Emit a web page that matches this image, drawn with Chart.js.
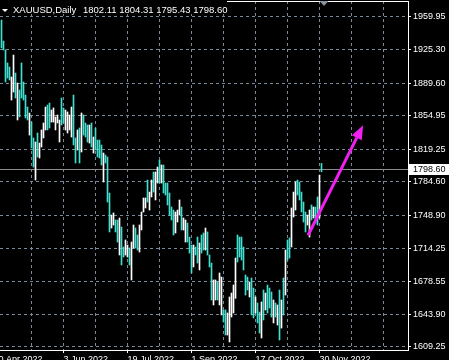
<!DOCTYPE html>
<html>
<head>
<meta charset="utf-8">
<title>XAUUSD Daily</title>
<script src="https://cdn.jsdelivr.net/npm/chart.js"></script>
<style>
    html, body { margin: 0; padding: 0; background: #000; }
    canvas { display: block; background: #000; }
</style>
</head>
<body>
<canvas id="myChart" width="449" height="360"></canvas>

<script>
// daily bars, index 0 = 21 Apr 2022 ... index 160 = 1 Dec 2022
var highs = [
    1956.7, 1934.4, 1924.9, 1911.1, 1906.8, 1896.2, 1919.5, 1900.4, 1889.8, 1882.4,
    1911.1, 1890.9, 1877.0, 1864.3, 1857.9, 1848.3, 1831.4, 1827.1, 1836.7, 1826.0,
    1839.9, 1847.3, 1864.3, 1866.4, 1868.5, 1861.1, 1863.3, 1853.7, 1855.8, 1850.5,
    1873.9, 1863.3, 1861.1, 1859.0, 1855.8, 1864.3, 1877.0, 1831.4, 1839.9, 1842.0,
    1857.9, 1855.8, 1847.3, 1845.2, 1845.2, 1847.3, 1832.4, 1842.0, 1829.2, 1829.2,
    1823.9, 1815.4, 1813.3, 1811.2, 1772.9, 1749.5, 1751.7, 1744.2, 1744.2, 1746.3,
    1736.8, 1715.5, 1723.0, 1717.6, 1714.5, 1720.8, 1738.9, 1735.7, 1728.3, 1738.9,
    1752.7, 1767.6, 1767.6, 1786.7, 1773.9, 1786.7, 1795.2, 1795.2, 1800.5, 1808.0,
    1802.7, 1802.7, 1783.5, 1783.5, 1772.9, 1758.0, 1754.8, 1752.7, 1754.8, 1765.5,
    1758.0, 1746.3, 1744.2, 1741.0, 1726.1, 1717.6, 1717.6, 1715.5, 1726.1, 1719.8,
    1728.3, 1730.4, 1735.7, 1731.5, 1707.0, 1698.5, 1680.5, 1680.5, 1678.3, 1687.9,
    1683.6, 1648.6, 1648.6, 1645.4, 1662.4, 1666.6, 1675.1, 1703.8, 1728.3, 1726.1,
    1726.1, 1715.5, 1685.8, 1683.6, 1678.3, 1682.6, 1671.9, 1662.4, 1656.0, 1646.4,
    1657.1, 1669.8, 1666.6, 1675.1, 1671.9, 1667.7, 1659.2, 1656.0, 1653.9, 1669.8,
    1659.2, 1682.6, 1712.3, 1723.0, 1725.1, 1757.0, 1773.9, 1784.6, 1786.7, 1784.6,
    1773.9, 1763.3, 1752.7, 1749.5, 1754.8, 1760.2, 1758.0, 1758.0, 1768.7, 1792.0,
    1804.31
];
var lows = [
    1927.0, 1924.9, 1890.9, 1895.1, 1893.0, 1871.7, 1880.2, 1873.9, 1850.5, 1853.7,
    1873.9, 1871.7, 1852.6, 1850.5, 1834.5, 1820.7, 1800.5, 1786.7, 1811.2, 1810.1,
    1821.8, 1831.4, 1839.9, 1839.9, 1842.0, 1848.3, 1848.3, 1839.9, 1847.3, 1827.1,
    1845.2, 1847.3, 1839.9, 1836.7, 1839.9, 1832.4, 1823.9, 1804.8, 1818.6, 1804.8,
    1816.5, 1834.5, 1832.4, 1827.1, 1826.0, 1821.8, 1815.4, 1818.6, 1811.2, 1810.1,
    1802.7, 1784.6, 1804.8, 1763.3, 1731.5, 1735.7, 1738.9, 1731.5, 1720.8, 1707.0,
    1696.4, 1704.9, 1707.0, 1704.9, 1696.4, 1680.5, 1714.5, 1714.5, 1712.3, 1710.2,
    1733.6, 1752.7, 1757.0, 1763.3, 1754.8, 1768.7, 1773.9, 1765.5, 1783.5, 1783.5,
    1783.5, 1772.9, 1770.8, 1760.2, 1749.5, 1744.2, 1728.3, 1730.4, 1742.1, 1749.5,
    1733.6, 1733.6, 1720.8, 1720.8, 1709.1, 1687.9, 1694.3, 1707.0, 1698.5, 1691.1,
    1709.1, 1712.3, 1712.3, 1707.0, 1694.3, 1659.2, 1653.9, 1659.2, 1659.2, 1653.9,
    1643.3, 1635.8, 1622.0, 1622.0, 1614.6, 1641.1, 1645.4, 1661.0, 1699.6, 1704.9,
    1701.7, 1691.1, 1664.5, 1669.8, 1662.4, 1643.3, 1640.1, 1645.4, 1634.8, 1624.1,
    1618.8, 1638.0, 1648.6, 1645.4, 1650.7, 1641.1, 1634.8, 1641.1, 1632.6, 1616.7,
    1629.4, 1643.3, 1664.5, 1701.7, 1703.8, 1715.5, 1747.4, 1754.8, 1770.8, 1765.5,
    1752.7, 1742.1, 1731.5, 1738.9, 1726.1, 1744.2, 1746.3, 1741.0, 1738.9, 1746.3,
    1795.43
];
// 1 = bull bar (white), 0 = bear bar (aqua)
var upBar = [
    0,0,0,0,0,1,1,0,1,0,  0,0,0,0,1,0,0,1,0,1,  1,1,1,0,0,1,1,1,1,1,  0,0,1,1,1,1,0,0,1,0,
    1,0,0,0,1,0,1,0,0,0,  0,1,0,0,0,1,1,0,0,1,  0,0,1,1,0,1,1,0,0,1,  1,1,1,0,1,1,0,1,1,0,
    1,0,0,0,0,0,0,1,1,1,  0,1,1,0,0,0,1,0,0,1,  0,0,1,0,0,0,1,1,0,1,  1,0,0,1,1,1,1,1,0,0,
    0,0,0,0,1,0,0,1,0,0,  1,0,1,0,0,0,1,0,1,0,  1,0,1,0,0,1,1,1,0,0,  0,0,0,1,1,0,1,0,0,1,
    0
];

var symbolName = 'XAUUSD,Daily';
var lastOHLC = [1802.11, 1804.31, 1795.43, 1798.60];

var priceTicks = [1609.25, 1643.90, 1678.55, 1714.25, 1748.90, 1784.60, 1819.25, 1854.95, 1889.60, 1925.30, 1959.95];
var gridBars = [15, 31, 47, 63, 79, 95, 111, 127, 143, 159, 175, 191];
var labelBars = [-4, 31, 63, 95, 127, 159];
var labelTexts = ['20 Apr 2022', '3 Jun 2022', '19 Jul 2022', '1 Sep 2022', '17 Oct 2022', '30 Nov 2022'];

// arrow drawn on the chart: [bar, price]
var arrowFrom = [153.3, 1728.0];
var arrowTo = [180.8, 1845.0];

var FONT = "'Liberation Sans', Arial, sans-serif";
var gridColor = '#778899';
var aqua = '#40e0d0';
var magenta = '#f020f0';

var decor = {
    id: 'decor',
    beforeDatasetsDraw: function (chart) {
        var c = chart.ctx, a = chart.chartArea;
        var y = Math.round(chart.scales.y.getPixelForValue(lastOHLC[3])) + 0.5;
        c.save();
        c.strokeStyle = '#8c8c8c';
        c.lineWidth = 1;
        c.beginPath();
        c.moveTo(a.left, y);
        c.lineTo(a.right, y);
        c.stroke();
        c.restore();
    },
    afterDatasetsDraw: function (chart) {
        var c = chart.ctx, xs = chart.scales.x, ys = chart.scales.y;
        var x0 = xs.getPixelForValue(arrowFrom[0]), y0 = ys.getPixelForValue(arrowFrom[1]);
        var x1 = xs.getPixelForValue(arrowTo[0]), y1 = ys.getPixelForValue(arrowTo[1]);
        var ang = Math.atan2(y1 - y0, x1 - x0);
        var len = 14, half = 5.5;
        var bx = x1 - len * Math.cos(ang), by = y1 - len * Math.sin(ang);
        c.save();
        c.strokeStyle = magenta;
        c.fillStyle = magenta;
        c.lineWidth = 3;
        c.beginPath();
        c.moveTo(x0, y0);
        c.lineTo(bx, by);
        c.stroke();
        c.beginPath();
        c.moveTo(x1, y1);
        c.lineTo(bx + half * Math.sin(ang), by - half * Math.cos(ang));
        c.lineTo(bx - half * Math.sin(ang), by + half * Math.cos(ang));
        c.closePath();
        c.fill();
        c.restore();
    },
    afterDraw: function (chart) {
        var c = chart.ctx, a = chart.chartArea, xs = chart.scales.x, ys = chart.scales.y;
        c.save();
        // top frame line
        c.strokeStyle = '#ffffff';
        c.lineWidth = 1;
        c.beginPath();
        c.moveTo(a.left, a.top + 0.5);
        c.lineTo(a.right + 1, a.top + 0.5);
        c.stroke();

        // chart shift marker
        var sx = xs.getPixelForValue(161.25);
        c.fillStyle = '#8391a0';
        c.beginPath();
        c.moveTo(sx - 4.5, 1);
        c.lineTo(sx + 4.5, 1);
        c.lineTo(sx, 6);
        c.closePath();
        c.fill();

        // title
        c.fillStyle = '#000';
        c.fillRect(0, 0, 227, 14);
        c.fillStyle = '#ffffff';
        c.beginPath();
        c.moveTo(2, 9);
        c.lineTo(8, 9);
        c.lineTo(5, 12);
        c.closePath();
        c.fill();
        c.font = '9.5px ' + FONT;
        c.textBaseline = 'alphabetic';
        c.textAlign = 'left';
        c.fillText(symbolName, 13, 13);
        c.fillText(lastOHLC.map(function (v) { return v.toFixed(2); }).join(' '), 83, 13);

        // current price box
        var py = Math.round(ys.getPixelForValue(lastOHLC[3]));
        c.fillStyle = '#ffffff';
        c.fillRect(a.right + 1, py - 5, 41, 11);
        c.fillStyle = '#000';
        c.font = '9px ' + FONT;
        c.textBaseline = 'middle';
        c.fillText(lastOHLC[3].toFixed(2), a.right + 5, py + 0.5);
        c.restore();
    }
};

var ctx = document.getElementById('myChart').getContext('2d');
var myChart = new Chart(ctx, {
    type: 'bar',
    data: {
        datasets: [{
            data: highs.map(function (h, i) { return { x: i, y: [lows[i], h] }; }),
            backgroundColor: upBar.map(function (u) { return u ? '#ffffff' : aqua; }),
            borderWidth: 0,
            barThickness: 1
        }]
    },
    options: {
        responsive: false,
        animation: false,
        devicePixelRatio: 1,
        layout: { padding: { top: 1, left: 0, right: 0, bottom: 0 } },
        plugins: {
            legend: { display: false },
            tooltip: { enabled: false }
        },
        scales: {
            x: {
                type: 'linear',
                min: -0.75,
                max: 203.25,
                offset: false,
                afterBuildTicks: function (s) {
                    s.ticks = [labelBars[0]].concat(gridBars).map(function (v) { return { value: v }; });
                },
                afterFit: function (s) {
                    s.height = 10;
                    s.paddingLeft = s.paddingRight = s.paddingTop = s.paddingBottom = 0;
                },
                ticks: {
                    autoSkip: false,
                    maxRotation: 0,
                    align: 'start',
                    padding: 1,
                    color: '#ffffff',
                    font: { family: FONT, size: 9 },
                    callback: function (v) {
                        var k = labelBars.indexOf(v);
                        return k < 0 ? '' : labelTexts[k];
                    }
                },
                grid: {
                    offset: false,
                    color: gridColor,
                    tickLength: 3,
                    tickColor: function (c) {
                        return labelBars.indexOf(c.tick.value) < 0 ? 'rgba(0,0,0,0)' : '#ffffff';
                    }
                },
                border: { color: '#ffffff', dash: [3, 3] }
            },
            y: {
                position: 'right',
                min: 1606.06,
                max: 1976.95,
                afterBuildTicks: function (s) {
                    s.ticks = priceTicks.map(function (v) { return { value: v }; });
                },
                afterFit: function (s) {
                    s.width = 41;
                    s.paddingLeft = s.paddingRight = s.paddingTop = s.paddingBottom = 0;
                },
                ticks: {
                    autoSkip: false,
                    padding: 2,
                    color: '#ffffff',
                    font: { family: FONT, size: 9 },
                    callback: function (v) { return v.toFixed(2); }
                },
                grid: { color: gridColor, tickLength: 3, tickColor: '#ffffff' },
                border: { color: '#ffffff', dash: [3, 3] }
            }
        }
    },
    plugins: [decor]
});
</script>
</body>
</html>
